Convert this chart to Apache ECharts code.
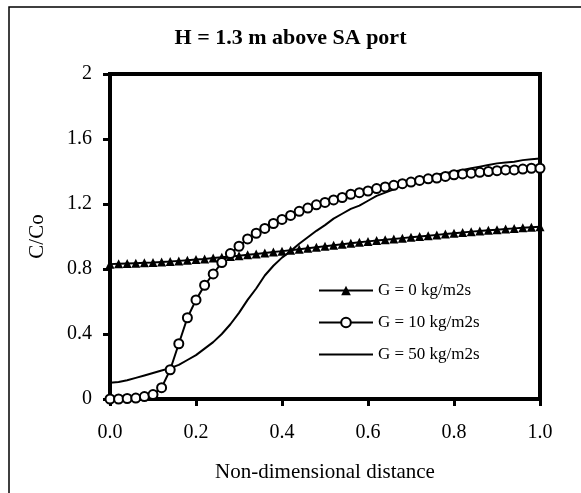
<!DOCTYPE html>
<html>
<head>
<meta charset="utf-8">
<script src="https://cdn.jsdelivr.net/npm/echarts@6/dist/echarts.min.js"></script>
<style>
  html, body { margin: 0; padding: 0; background: #fff; }
  #main { width: 581px; height: 493px; }
</style>
</head>
<body>
<div id="main"></div>
<script>
// distance along the plane, 0..1 in steps of 0.02
const distance = [
  0, 0.02, 0.04, 0.06, 0.08, 0.10, 0.12, 0.14, 0.16, 0.18,
  0.20, 0.22, 0.24, 0.26, 0.28, 0.30, 0.32, 0.34, 0.36, 0.38,
  0.40, 0.42, 0.44, 0.46, 0.48, 0.50, 0.52, 0.54, 0.56, 0.58,
  0.60, 0.62, 0.64, 0.66, 0.68, 0.70, 0.72, 0.74, 0.76, 0.78,
  0.80, 0.82, 0.84, 0.86, 0.88, 0.90, 0.92, 0.94, 0.96, 0.98, 1.00
]

// G = 0 kg/m2s (triangles)
const g0 = [
  0.830, 0.832, 0.834, 0.836, 0.838, 0.840, 0.843, 0.846, 0.850, 0.854,
  0.858, 0.862, 0.867, 0.872, 0.877, 0.882, 0.887, 0.892, 0.898, 0.904,
  0.910, 0.916, 0.922, 0.928, 0.934, 0.940, 0.946, 0.952, 0.958, 0.964,
  0.970, 0.975, 0.980, 0.985, 0.990, 0.995, 1.000, 1.005, 1.010, 1.015,
  1.020, 1.025, 1.030, 1.034, 1.038, 1.042, 1.046, 1.050, 1.054, 1.057, 1.060
]

// G = 10 kg/m2s (open circles)
const g10 = [
  0.000, 0.000, 0.003, 0.006, 0.015, 0.027, 0.070, 0.180, 0.340, 0.500,
  0.610, 0.700, 0.770, 0.840, 0.895, 0.940, 0.985, 1.020, 1.050, 1.080,
  1.105, 1.130, 1.155, 1.175, 1.195, 1.210, 1.225, 1.240, 1.260, 1.270,
  1.280, 1.295, 1.305, 1.315, 1.325, 1.335, 1.345, 1.355, 1.360, 1.370,
  1.380, 1.385, 1.390, 1.395, 1.400, 1.405, 1.410, 1.410, 1.415, 1.420, 1.420
]

// G = 50 kg/m2s (plain line)
const g50 = [
  0.100, 0.105, 0.115, 0.130, 0.145, 0.160, 0.175, 0.190, 0.210, 0.240,
  0.270, 0.310, 0.350, 0.400, 0.460, 0.530, 0.610, 0.680, 0.760, 0.820,
  0.870, 0.910, 0.955, 0.995, 1.035, 1.070, 1.110, 1.140, 1.170, 1.190,
  1.220, 1.250, 1.270, 1.290, 1.320, 1.330, 1.350, 1.360, 1.380, 1.390,
  1.400, 1.410, 1.420, 1.430, 1.440, 1.450, 1.455, 1.460, 1.470, 1.475, 1.480
]

const seriesNames = ['G = 0 kg/m2s', 'G = 10 kg/m2s', 'G = 50 kg/m2s']

const font = 'Liberation Serif'
const pair = ys => distance.map((x, i) => [x, ys[i]])

const chart = echarts.init(document.getElementById('main'))

chart.setOption({
  animation: false,
  backgroundColor: '#fff',
  textStyle: { fontFamily: font, color: '#000' },
  title: {
    text: 'H = 1.3 m above SA port',
    left: 'center',
    top: 22,
    textStyle: { fontFamily: font, fontSize: 22, fontWeight: 'bold', color: '#000' }
  },
  graphic: [
    {
      // chart-area frame (only its left and top edges fall inside the picture)
      type: 'rect',
      shape: { x: 9, y: 7, width: 800, height: 800 },
      style: { fill: 'none', stroke: '#000', lineWidth: 1.5 },
      silent: true
    }
  ],
  legend: {
    orient: 'vertical',
    left: 318,
    top: 282,
    padding: 0,
    itemWidth: 54,
    itemHeight: 12,
    itemGap: 15,
    textStyle: { fontFamily: font, fontSize: 17, color: '#000' },
    data: [
      { name: seriesNames[0] },
      { name: seriesNames[1] },
      // plain line, no marker
      { name: seriesNames[2], icon: 'path://M0,0L54,0L54,2.2L0,2.2Z' }
    ]
  },
  grid: {
    left: 110,
    right: 41,
    top: 74,
    bottom: 94,
    show: true,
    borderColor: '#000',
    borderWidth: 4,
    containLabel: false
  },
  xAxis: {
    type: 'value',
    min: 0,
    max: 1,
    interval: 0.2,
    name: 'Non-dimensional distance',
    nameLocation: 'middle',
    nameGap: 63,
    nameTextStyle: { fontFamily: font, fontSize: 21, color: '#000' },
    axisLine: { lineStyle: { color: '#000', width: 4 } },
    axisTick: { inside: false, length: 7, lineStyle: { color: '#000', width: 3 } },
    axisLabel: {
      margin: 24,
      fontFamily: font,
      fontSize: 20,
      color: '#000',
      formatter: v => v.toFixed(1)
    },
    splitLine: { show: false }
  },
  yAxis: {
    type: 'value',
    min: 0,
    max: 2,
    interval: 0.4,
    name: 'C/Co',
    nameLocation: 'middle',
    nameGap: 62,
    nameRotate: 90,
    nameTextStyle: { fontFamily: font, fontSize: 21, color: '#000' },
    axisLine: { lineStyle: { color: '#000', width: 4 } },
    axisTick: { inside: false, length: 7, lineStyle: { color: '#000', width: 3 } },
    axisLabel: { margin: 18, fontFamily: font, fontSize: 20, color: '#000' },
    splitLine: { show: false }
  },
  series: [
    {
      name: seriesNames[0],
      type: 'line',
      data: pair(g0),
      symbol: 'triangle',
      symbolSize: 9,
      showAllSymbol: true,
      lineStyle: { color: '#000', width: 2 },
      itemStyle: { color: '#000' }
    },
    {
      name: seriesNames[1],
      type: 'line',
      data: pair(g10),
      symbol: 'circle',
      symbolSize: 9,
      showAllSymbol: true,
      lineStyle: { color: '#000', width: 2 },
      itemStyle: { color: '#fff', borderColor: '#000', borderWidth: 2 }
    },
    {
      name: seriesNames[2],
      type: 'line',
      data: pair(g50),
      symbol: 'none',
      lineStyle: { color: '#000', width: 2 },
      itemStyle: { color: '#000' }
    }
  ]
})
</script>
</body>
</html>
